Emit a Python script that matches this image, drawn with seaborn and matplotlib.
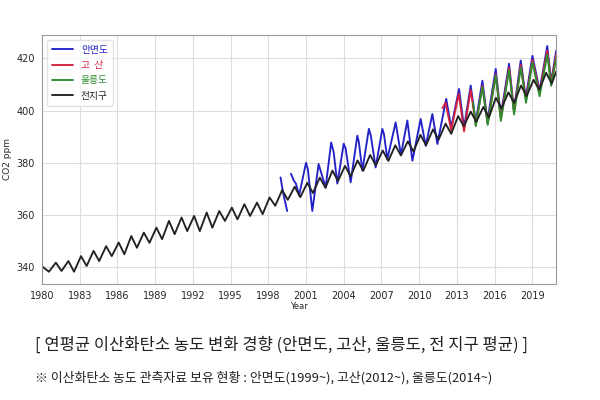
import numpy as np
import pandas as pd
import matplotlib
matplotlib.use("Agg")
import matplotlib.pyplot as plt
import seaborn as sns

# ---------------- data ----------------
years = list(range(1980, 2021))
black_peak = [340.3, 341.7, 342.3, 344.2, 346.2, 348.0, 349.4, 351.9, 353.2, 355.1,
              357.7, 359.0, 359.6, 360.9, 361.5, 362.8, 364.1, 364.7, 366.7, 369.5,
              370.8, 372.3, 374.3, 377.0, 378.8, 380.9, 383.0, 384.7, 386.7, 388.2,
              390.7, 392.8, 395.0, 397.9, 399.6, 401.4, 404.9, 407.0, 409.6, 411.8,
              414.5]
black_trough = [338.2, 338.5, 338.2, 340.4, 342.3, 344.2, 344.9, 347.4, 349.3, 350.7,
                352.6, 353.8, 353.8, 355.1, 357.7, 358.3, 359.6, 360.3, 363.5, 365.8,
                366.8, 368.4, 370.4, 373.0, 374.8, 376.9, 379.0, 380.7, 382.8, 384.3,
                386.7, 388.9, 391.1, 394.0, 395.7, 397.4, 400.9, 403.0, 405.6, 408.0,
                410.4]
black_end_t = 2020.9
black_end_v = 415.0

# Anmyeon-do (two pieces: early fragment, then continuous record)
blue1_t = [1998.97, 1999.2, 1999.5]
blue1_v = [374.4, 368.0, 361.5]
blue2_t = [1999.8, 2000.05, 2000.2, 2000.45, 2001.0, 2001.15, 2001.5, 2002.0, 2002.56,
           2003.0, 2003.2, 2003.49, 2004.0, 2004.15, 2004.55, 2005.08, 2005.2, 2005.48,
           2006.0, 2006.15, 2006.54, 2007.07, 2007.2, 2007.47, 2008.13, 2008.55,
           2009.06, 2009.46, 2010.12, 2010.52, 2011.05, 2011.45, 2012.15, 2012.55,
           2013.17, 2013.57, 2014.1, 2014.5, 2015.03, 2015.43, 2016.09, 2016.49,
           2017.15, 2017.54, 2018.08, 2018.48, 2019.01, 2019.58, 2020.19, 2020.5,
           2020.9]
blue2_v = [375.8, 373.0, 372.0, 367.5, 380.0, 377.5, 361.5, 379.5, 370.5,
           387.8, 384.0, 372.0, 387.3, 385.5, 372.5, 390.4, 388.0, 377.0,
           393.0, 390.5, 378.2, 393.0, 391.0, 381.4, 395.5, 383.0,
           396.2, 380.8, 396.8, 386.5, 398.7, 387.2, 404.5, 393.6,
           408.3, 393.6, 409.6, 395.5, 411.5, 396.0, 416.0, 398.0,
           418.0, 400.0, 419.2, 405.0, 421.0, 407.7, 424.8, 411.0,
           423.0]

# Gosan (2012~)
red_t = [2011.85, 2012.1, 2012.55, 2013.15, 2013.57, 2014.1, 2014.5, 2015.03, 2015.45,
         2016.09, 2016.5, 2017.15, 2017.55, 2018.08, 2018.5, 2019.01, 2019.58, 2020.19,
         2020.5, 2020.9]
red_v = [401.0, 403.0, 392.5, 406.5, 392.0, 408.0, 394.5, 409.5, 395.0,
         414.0, 397.0, 416.5, 399.5, 417.5, 404.0, 419.5, 407.0, 423.0,
         410.5, 421.5]

# Ulleungdo (2014~)
green_t = [2014.3, 2014.5, 2015.03, 2015.45, 2016.09, 2016.5, 2017.15, 2017.55, 2018.08,
           2018.5, 2019.01, 2019.58, 2020.19, 2020.5, 2020.9]
green_v = [403.0, 394.0, 409.0, 394.5, 413.5, 396.0, 415.5, 398.5, 416.5,
           403.0, 418.5, 405.5, 421.5, 409.5, 420.0]

labels = ["안면도", "고  산", "울릉도", "전지구"]
x_ticks = list(range(1980, 2020, 3))
y_ticks = [340, 360, 380, 400, 420]
caption1 = "[ 연평균 이산화탄소 농도 변화 경향 (안면도, 고산, 울릉도, 전 지구 평균) ]"
caption2 = "※ 이산화탄소 농도 관측자료 보유 현황 : 안면도(1999~), 고산(2012~), 울릉도(2014~)"

# ---------------- build black series ----------------
bt, bv = [], []
for y, p, t in zip(years, black_peak, black_trough):
    bt += [y + 0.1, y + 0.55]
    bv += [p, t]
bt = [1980.0] + bt[1:] + [black_end_t]
bv = [black_peak[0]] + bv[1:] + [black_end_v]

# ---------------- plot ----------------
sns.set_style("whitegrid")
plt.rcParams['font.family'] = ['DejaVu Sans', 'Noto Sans CJK KR']
kr = ['Noto Sans CJK KR', 'DejaVu Sans']

fig = plt.figure(figsize=(6, 4), dpi=100)
ax = fig.add_axes([0.07, 0.29, 0.857, 0.6225])

c_blue = "#2222c8"
c_red = "#d4203c"
c_green = "#2e8b2e"
c_black = "#222222"
lw = 1.35

sns.lineplot(x=blue1_t, y=blue1_v, ax=ax, color=c_blue, lw=lw, sort=False, estimator=None)
sns.lineplot(x=blue2_t, y=blue2_v, ax=ax, color=c_blue, lw=lw, sort=False, estimator=None, label=labels[0])
sns.lineplot(x=red_t, y=red_v, ax=ax, color=c_red, lw=lw, sort=False, estimator=None, label=labels[1])
sns.lineplot(x=green_t, y=green_v, ax=ax, color=c_green, lw=lw, sort=False, estimator=None, label=labels[2])
sns.lineplot(x=bt, y=bv, ax=ax, color=c_black, lw=lw, sort=False, estimator=None, label=labels[3])

ax.set_xlim(1980, 2020.9)
ax.set_ylim(333.5, 429)
ax.set_xticks(x_ticks)
ax.set_yticks(y_ticks)
ax.tick_params(labelsize=7, length=3, color="#888888", pad=2)
ax.grid(True, color="#dddddd", lw=0.8)
for s in ax.spines.values():
    s.set_visible(True)
    s.set_color("#999999")
    s.set_linewidth(0.8)
ax.set_xlabel("Year", fontsize=6, labelpad=1)
ax.set_ylabel("CO2 ppm", fontsize=6.5, labelpad=3)

leg = ax.legend(loc="upper left", frameon=True, handlelength=2.2,
                borderpad=0.5, labelspacing=0.55, prop={'family': kr, 'size': 7})
leg.get_frame().set_edgecolor("#dddddd")
for txt, col in zip(leg.get_texts(), [c_blue, c_red, c_green, c_black]):
    txt.set_color(col)

fig.text(0.058, 0.1375, caption1, family=kr, fontsize=11.9, color="#222222", va="center", ha="left")
fig.text(0.058, 0.055, caption2, family=kr, fontsize=9.3, color="#222222", va="center", ha="left")

fig.savefig("out.png", dpi=100)
